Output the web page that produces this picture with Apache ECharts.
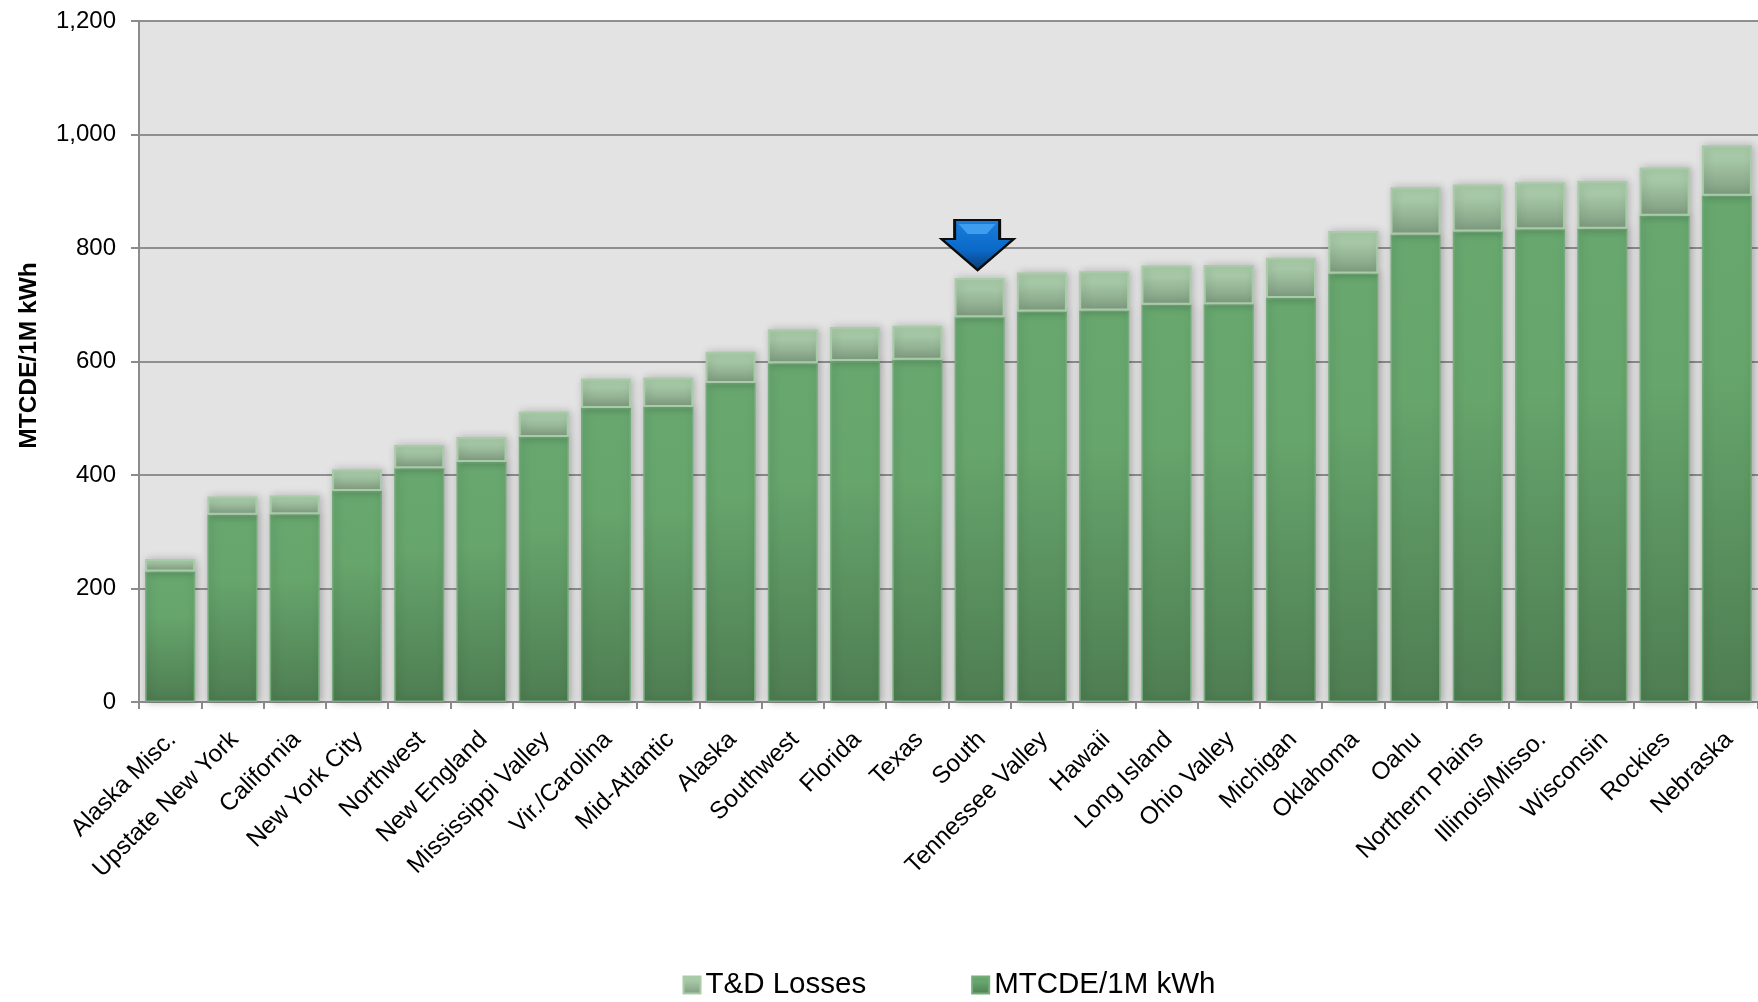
<!DOCTYPE html>
<html>
<head>
<meta charset="utf-8">
<style>html,body{margin:0;padding:0;background:#fff}#chart{width:1758px;height:1002px}</style>
<script src="https://cdn.jsdelivr.net/npm/echarts@6/dist/echarts.min.js"></script>
</head>
<body>
<div id="chart"></div>
<script>
// Carbon intensity of electricity by grid region, with line losses stacked on top.
const regions = ['Alaska Misc.','Upstate New York','California','New York City','Northwest','New England','Mississippi Valley','Vir./Carolina','Mid-Atlantic','Alaska','Southwest','Florida','Texas','South','Tennessee Valley','Hawaii','Long Island','Ohio Valley','Michigan','Oklahoma','Oahu','Northern Plains','Illinois/Misso.','Wisconsin','Rockies','Nebraska'];
const mtcde = [230,330,331,372,412,423,467,518,520,562,597,601,603,678,688,690,700,701,712,755,824,829,833,834,857,892];
const tdLosses = [22,32,33,38,41,44,45,52,52,55,60,60,60,69,69,69,69,69,71,75,83,83,83,84,85,89];
const highlighted = 'South';
const yTicks = {min:0,max:1200,interval:200};
// Down arrow outline and its bevel facet, in the same 72x50 box.
const arrowPath = 'path://M13 0L58 0L58 19L72 19L36 50L0 19L13 19Z';
const topFacetPath = 'path://M17 4L54 4L45 14L26 14Z';

const vGrad = stops => ({type:'linear',x:0,y:0,x2:0,y2:1,colorStops:stops.map(([offset,color])=>({offset,color}))});
const baseFill = vGrad([[0,'#68a86f'],[0.35,'#66a56c'],[1,'#4e7d52']]);
const lossFill = vGrad([[0,'#aacdaa'],[0.3,'#a5c7a5'],[1,'#7f9c80']]);
const highlightIndex = regions.indexOf(highlighted);
const highlightTop = mtcde[highlightIndex] + tdLosses[highlightIndex];
const font = '"Liberation Sans", Arial, sans-serif';
const ink = '#000';

const chart = echarts.init(document.getElementById('chart'), null, {renderer:'canvas'});
chart.setOption({
  animation:false,
  backgroundColor:'#fff',
  grid:{left:139,top:21,width:1620,height:681,backgroundColor:'#e3e3e3',show:true,borderWidth:0},
  legend:{
    left:677.5,top:965,itemWidth:17,itemHeight:17,itemGap:105,icon:'rect',
    data:['T&D Losses','MTCDE/1M kWh'],
    textStyle:{fontFamily:font,fontSize:29.5,color:ink}
  },
  xAxis:{
    type:'category',data:regions,
    axisLine:{lineStyle:{color:'#8c8c8c',width:2}},
    axisTick:{show:true,alignWithLabel:false,length:7,lineStyle:{color:'#8c8c8c',width:2}},
    axisLabel:{rotate:45,interval:0,margin:36,padding:[0,-3,0,0],fontFamily:font,fontSize:24.4,color:ink},
    splitLine:{show:false}
  },
  yAxis:{
    type:'value',...yTicks,
    name:'MTCDE/1M kWh',nameLocation:'middle',nameRotate:90,nameGap:87,
    nameTextStyle:{fontFamily:font,fontSize:24.5,fontWeight:'bold',color:ink,padding:[0,0,10,12]},
    axisLine:{show:true,lineStyle:{color:'#8c8c8c',width:2}},
    axisTick:{show:true,length:8,lineStyle:{color:'#8c8c8c',width:2}},
    axisLabel:{margin:23,fontFamily:font,fontSize:24,color:ink,padding:[6,0,0,0],formatter:v=>v.toLocaleString('en-US')},
    splitLine:{lineStyle:{color:'#8f8f8f',width:2}}
  },
  series:[
    {
      name:'MTCDE/1M kWh',type:'bar',stack:'total',barWidth:50,data:mtcde,
      itemStyle:{color:baseFill,borderColor:'#74ad7a',borderWidth:1.5,shadowBlur:8,shadowColor:'rgba(0,0,0,0.28)',shadowOffsetX:2}
    },
    {
      name:'T&D Losses',type:'bar',stack:'total',barWidth:50,data:tdLosses,
      itemStyle:{color:lossFill,borderColor:'#a9cca8',borderWidth:2,shadowBlur:8,shadowColor:'rgba(0,0,0,0.2)',shadowOffsetX:2},
      markPoint:{
        silent:true,
        data:[
          {coord:[highlighted,highlightTop],symbol:arrowPath,symbolSize:[72,50],symbolOffset:[-2,-33],
           itemStyle:{color:vGrad([[0,'#1a7fdc'],[0.6,'#0b69c8'],[1,'#0a3a70']]),borderColor:'#0c0c0c',borderWidth:2.5},label:{show:false}},
          {coord:[highlighted,highlightTop],symbol:topFacetPath,symbolSize:[37,10],symbolOffset:[-2.5,-49],
           itemStyle:{color:'#3f9df0',borderWidth:0},label:{show:false}}
        ]
      }
    }
  ]
});
</script>
</body>
</html>
